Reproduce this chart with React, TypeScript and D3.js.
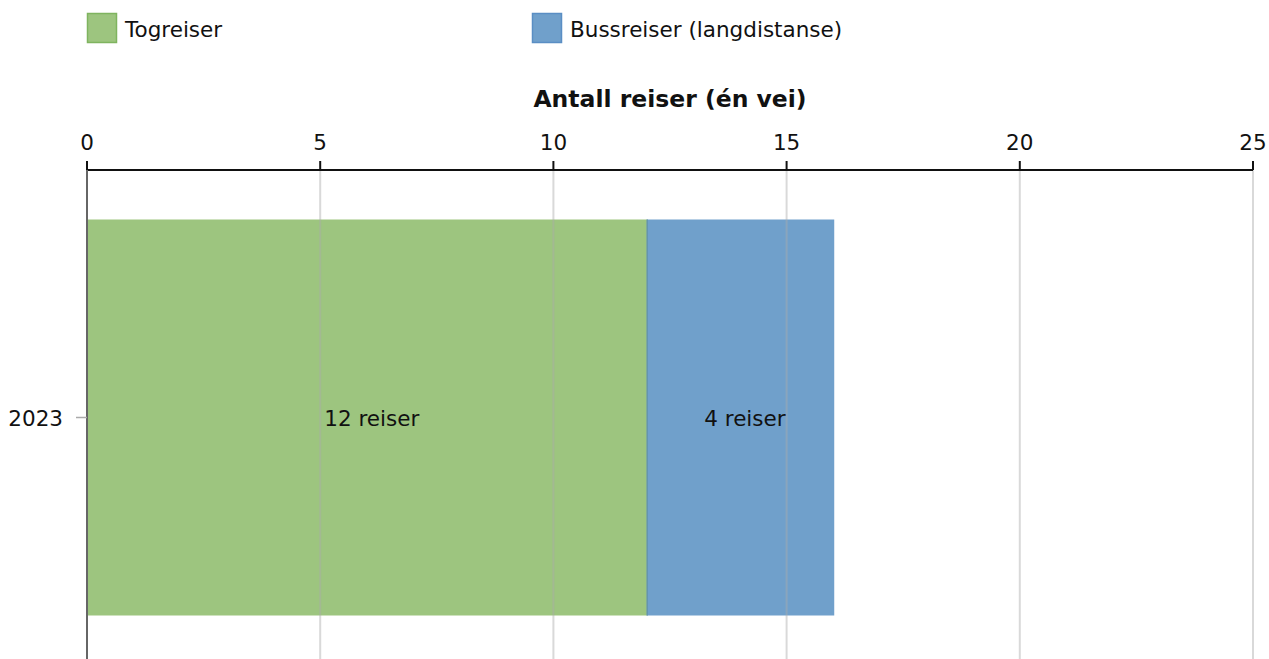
import React from "react";
import * as d3 from "d3";

const categories = ["2023"];
const seriesNames = ["Togreiser", "Bussreiser (langdistanse)"];
const togreiser = [12];
const bussreiser = [4];
const xTicks = [0, 5, 10, 15, 20, 25];
const axisTitle = "Antall reiser (én vei)";
const labelSuffix = " reiser";

const fills = ["#9dc57f", "#70a0cb"];
const strokes = ["#7fb45f", "#5a8ec4"];

export default function App() {
  const W = 1269;
  const H = 659;
  const left = 87;
  const right = 1253;
  const top = 170;
  const bottom = 665;
  const font = "'DejaVu Sans', Verdana, sans-serif";
  const fs = 21.5;

  const x = d3.scaleLinear().domain([0, 25]).range([left, right]);
  const y = d3.scaleBand().domain(categories).range([top, bottom]).paddingInner(0.2).paddingOuter(0.1);

  const stacks = categories.map((c, i) => {
    const vals = [togreiser[i], bussreiser[i]];
    let acc = 0;
    return vals.map((v, k) => {
      const s = { c, k, x0: acc, x1: acc + v, v };
      acc += v;
      return s;
    });
  });

  return (
    <svg width={W} height={H} style={{ position: "absolute", left: 0, top: 0, fontFamily: font }}>
      {/* legend */}
      {seriesNames.map((n, i) => {
        const lx = i === 0 ? 87 : 532;
        return (
          <g key={n}>
            <rect x={lx + 0.5} y={13.5} width={29} height={29} fill={fills[i]} stroke={strokes[i]} strokeWidth={1.5} />
            <text x={lx + 38} y={36.5} fontSize={fs} fill="#111">{n}</text>
          </g>
        );
      })}
      {/* axis title */}
      <text x={(left + right) / 2} y={107} textAnchor="middle" fontSize={23.5} fontWeight="bold" fill="#111">{axisTitle}</text>
      {/* bars */}
      {stacks.flat().map((s) => (
        <rect
          key={s.c + s.k}
          x={x(s.x0)}
          y={y(s.c)!}
          width={x(s.x1) - x(s.x0) + 1}
          height={y.bandwidth()}
          fill={fills[s.k]}
        />
      ))}
      {/* grid lines */}
      {xTicks.filter((t) => t > 0).map((t) => (
        <line key={t} x1={x(t)} x2={x(t)} y1={top} y2={bottom} stroke="#aaa" strokeOpacity={0.45} strokeWidth={2} />
      ))}
      {/* segment borders */}
      {stacks.flat().filter((s) => s.k > 0).map((s) => (
        <line key={"b" + s.c + s.k} x1={x(s.x0) + 0.5} x2={x(s.x0) + 0.5} y1={y(s.c)!} y2={y(s.c)! + y.bandwidth()} stroke="#5f8fa0" strokeWidth={1} />
      ))}
      {/* bar labels */}
      {stacks.flat().map((s) => (
        <text
          key={"l" + s.c + s.k}
          x={(x(s.x0) + x(s.x1)) / 2 + 5}
          y={y(s.c)! + y.bandwidth() / 2 + 8}
          textAnchor="middle"
          fontSize={fs}
          fill="#111"
        >
          {s.v + labelSuffix}
        </text>
      ))}
      {/* x axis */}
      <line x1={left} x2={right} y1={top} y2={top} stroke="#111" strokeWidth={2} />
      {xTicks.map((t) => (
        <g key={"t" + t}>
          <line x1={x(t)} x2={x(t)} y1={top - 9} y2={top} stroke="#111" strokeWidth={2} />
          <text x={x(t)} y={149.5} textAnchor="middle" fontSize={fs} fill="#111">{t}</text>
        </g>
      ))}
      {/* y axis */}
      <line x1={left} x2={left} y1={top} y2={bottom} stroke="#666" strokeWidth={2} />
      {categories.map((c) => (
        <g key={"y" + c}>
          <line x1={left - 11} x2={left} y1={y(c)! + y.bandwidth() / 2} y2={y(c)! + y.bandwidth() / 2} stroke="#aaa" strokeWidth={1.5} />
          <text x={left - 24} y={y(c)! + y.bandwidth() / 2 + 8} textAnchor="end" fontSize={fs} fill="#111">{c}</text>
        </g>
      ))}
    </svg>
  );
}
